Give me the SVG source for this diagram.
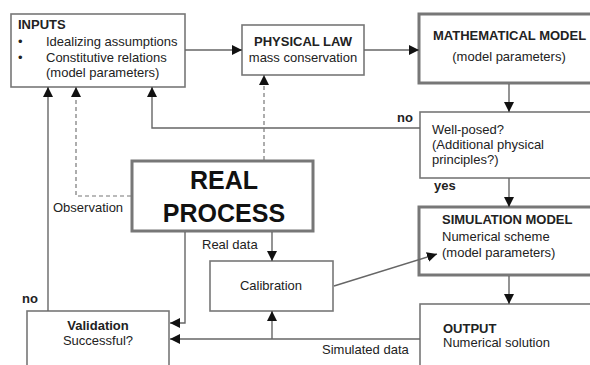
<svg xmlns="http://www.w3.org/2000/svg" width="590" height="365" viewBox="0 0 590 365">
<defs>
<style>
text{font-family:"Liberation Sans",Arial,sans-serif;font-size:13px;fill:#222}
.b{font-weight:bold}
.big{font-weight:bold;font-size:25px;fill:#111}
.box{fill:#fff;stroke:#777;stroke-width:1.6}
.tbox{fill:#fff;stroke:#777;stroke-width:3}
.ln{fill:none;stroke:#666;stroke-width:1.4}
.dash{fill:none;stroke:#777;stroke-width:1.2;stroke-dasharray:4 3}
.m{text-anchor:middle}
</style>
<marker id="ar" viewBox="0 0 10 10" refX="10" refY="5" markerWidth="10" markerHeight="10" markerUnits="userSpaceOnUse" orient="auto">
<path d="M0,0 L10,5 L0,10 Z" fill="#111"/>
</marker>
</defs>
<rect width="590" height="365" fill="#fff"/>
<g id="inputs">
<rect class="box" x="11" y="14" width="174" height="73"/>
<text class="b" x="18" y="29">INPUTS</text>
<text x="18" y="46">•</text>
<text x="46" y="46">Idealizing assumptions</text>
<text x="18" y="62">•</text>
<text x="46" y="62">Constitutive relations</text>
<text x="46" y="77">(model parameters)</text>
</g>
<g id="physical-law">
<rect class="box" x="242" y="25" width="122" height="50"/>
<text class="b m" x="303" y="46">PHYSICAL LAW</text>
<text class="m" x="303" y="62">mass conservation</text>
</g>
<g id="math-model">
<rect class="tbox" x="419" y="14" width="190" height="69"/>
<text class="b" x="433" y="40">MATHEMATICAL MODEL</text>
<text class="m" x="509" y="61">(model parameters)</text>
</g>
<g id="well-posed">
<rect class="box" x="420" y="112" width="190" height="66"/>
<text x="432" y="134">Well-posed?</text>
<text x="432" y="149">(Additional physical</text>
<text x="432" y="164">principles?)</text>
</g>
<g id="real-process">
<rect class="tbox" x="132" y="161" width="181" height="70"/>
<text class="big m" x="224" y="189">REAL</text>
<text class="big m" x="224" y="222">PROCESS</text>
</g>
<g id="simulation-model">
<rect class="tbox" x="419" y="207" width="190" height="68"/>
<text class="b" x="442" y="224">SIMULATION MODEL</text>
<text x="442" y="241">Numerical scheme</text>
<text x="442" y="257">(model parameters)</text>
</g>
<g id="calibration">
<rect class="box" x="210" y="261" width="123" height="50"/>
<text class="m" x="271" y="290">Calibration</text>
</g>
<g id="validation">
<rect class="box" x="27" y="311" width="142" height="60"/>
<text class="b m" x="98" y="330">Validation</text>
<text class="m" x="98" y="345">Successful?</text>
</g>
<g id="output">
<rect class="box" x="420" y="304" width="190" height="70"/>
<text class="b" x="443" y="333">OUTPUT</text>
<text x="443" y="347">Numerical solution</text>
</g>
<g id="connectors">
<path class="ln" d="M185,50 H242" marker-end="url(#ar)"/>
<path class="ln" d="M364,50 H419" marker-end="url(#ar)"/>
<path class="ln" d="M509,84 V112" marker-end="url(#ar)"/>
<path class="ln" d="M420,128 H152 V87" marker-end="url(#ar)"/>
<path class="ln" d="M509,178 V207" marker-end="url(#ar)"/>
<path class="ln" d="M509,276 V304" marker-end="url(#ar)"/>
<path class="dash" d="M264,160 V75" marker-end="url(#ar)"/>
<path class="dash" d="M131,196 H76 V87" marker-end="url(#ar)"/>
<path class="ln" d="M48,311 V87" marker-end="url(#ar)"/>
<path class="ln" d="M272,232 V261" marker-end="url(#ar)"/>
<path class="ln" d="M185,232 V323 H170" marker-end="url(#ar)"/>
<path class="ln" d="M420,339 H170" marker-end="url(#ar)"/>
<path class="ln" d="M272,339 V311" marker-end="url(#ar)"/>
<path class="ln" d="M334,286 L437,254" marker-end="url(#ar)"/>
</g>
<text class="b" x="397" y="122">no</text>
<text class="b" x="434" y="190">yes</text>
<text x="53" y="212">Observation</text>
<text x="202" y="249">Real data</text>
<text class="b" x="22" y="303">no</text>
<text x="322" y="354">Simulated data</text>
</svg>
